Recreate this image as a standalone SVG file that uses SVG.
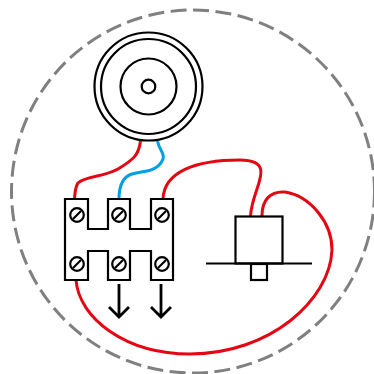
<svg xmlns="http://www.w3.org/2000/svg" width="374" height="374" viewBox="0 0 374 374">
<style>
.k{fill:none;stroke:#000;stroke-width:2.200}
.a{fill:none;stroke:#000;stroke-width:2.800}
.r{fill:none;stroke:#e30613;stroke-width:3}
.b{fill:none;stroke:#009fe3;stroke-width:3}
</style>
<defs><g id="screw"><circle r="6.800" fill="#fff" stroke="#000" stroke-width="2.200"/><path d="M-4 4L4-4" stroke="#000" stroke-width="2.200"/></g></defs>
<circle id="boundary" cx="193" cy="191.500" r="181.500" fill="none" stroke="#808080" stroke-width="3" stroke-dasharray="16 6.500"/>
<g id="motor" class="k"><circle cx="148.500" cy="86.500" r="54"/><circle cx="148.500" cy="86.500" r="47.500"/><circle cx="148.500" cy="86.500" r="28"/><circle cx="148.500" cy="86.500" r="6.800"/></g>
<g id="connectors">
<path class="r" d="M140.500 141C139 155 133 160 118 169C104 177 85 176 78 183C75 187 75 193 74.500 199"/>
<path class="b" d="M157.500 141C159 150 165 153 163 159C158 172 143 171 132 174C122 177 119 187 119 199"/>
<path class="r" d="M163 199C164 172 195 160 240 160C268 160 262 175 256 192C253 201 251 208 250.500 216"/>
<path class="r" d="M262 216C262 200 270 191 285 192C310 196 332 222 332 250C330 300 270 354 190 354C125 354 79 318 76 280"/>
<path class="a" d="M119 284V317M109 307L119 317L129 307M161 284V317M151 307L161 317L171 307"/>
</g>
<g id="terminal"><path class="k" d="M65 199H88V229H108V199H130V229H151V199H173V280H151V251H130V280H108V251H88V280H65Z" fill="#fff"/>
<use href="#screw" x="77" y="215"/><use href="#screw" x="119" y="215"/><use href="#screw" x="162" y="215"/><use href="#screw" x="77" y="264"/><use href="#screw" x="119" y="264"/><use href="#screw" x="162" y="264"/></g>
<g id="switch" class="k"><rect x="235.500" y="216.500" width="47" height="47"/><path d="M206 263.500H312"/><rect x="251" y="264" width="16" height="16"/></g>
</svg>
